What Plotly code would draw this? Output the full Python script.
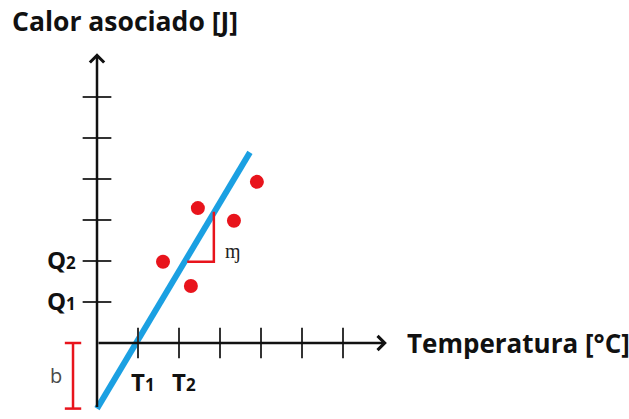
import plotly.graph_objects as go

# data
pts_x = [1.61, 2.29, 2.46, 3.34, 3.9]
pts_y = [1.98, 1.39, 3.29, 2.98, 3.93]
fit_x = [0.0, 3.73]
fit_y = [-1.6, 4.65]
slope_x = [2.2, 2.85, 2.85]
slope_y = [1.98, 1.98, 3.2]
b_x = -0.585
b_y = [0.0, -1.6]
x_ticks = [1, 2, 3, 4, 5, 6]
y_ticks = [1, 2, 3, 4, 5, 6]
x_tick_labels = {1: ("T", "1"), 2: ("T", "2")}
y_tick_labels = {1: ("Q", "1"), 2: ("Q", "2")}
x_axis_end = 7.07
y_axis_end = 7.07
y_axis_start = -1.6

U = 41.0
W, H = 629, 419
x0px, y0px = 97, 343
xr = [-x0px / U, (W - x0px) / U]
yr = [-(H - y0px) / U, y0px / U]

RED = "#e8141c"
BLUE = "#1ba0e2"
FONT = "Open Sans"

fig = go.Figure()

# tick marks
for t in x_ticks:
    fig.add_shape(type="line", x0=t, x1=t, y0=-0.37, y1=0.37, xref="x", yref="y",
                  line=dict(color="#333333", width=2))
for t in y_ticks:
    fig.add_shape(type="line", x0=-0.35, x1=0.35, y0=t, y1=t, xref="x", yref="y",
                  line=dict(color="#333333", width=2))

# axes with arrows
fig.add_annotation(x=x_axis_end, y=0, ax=0, ay=0, xref="x", yref="y", axref="x", ayref="y",
                   showarrow=True, arrowhead=4, arrowsize=1.1, arrowwidth=2.5, arrowcolor="#111111", text="")
fig.add_annotation(x=0, y=y_axis_end, ax=0, ay=y_axis_start, xref="x", yref="y", axref="x", ayref="y",
                   showarrow=True, arrowhead=4, arrowsize=1.1, arrowwidth=2.5, arrowcolor="#111111", text="")

# fit line
fig.add_trace(go.Scatter(x=fit_x, y=fit_y, mode="lines", line=dict(color=BLUE, width=6), hoverinfo="skip"))
# slope triangle
fig.add_trace(go.Scatter(x=slope_x, y=slope_y, mode="lines", line=dict(color=RED, width=2.5), hoverinfo="skip"))
# points
fig.add_trace(go.Scatter(x=pts_x, y=pts_y, mode="markers",
                         marker=dict(color=RED, size=14, line=dict(width=0))))
# b bracket
fig.add_trace(go.Scatter(x=[b_x, b_x], y=b_y, mode="lines", line=dict(color=RED, width=2.5), hoverinfo="skip"))
for yy in b_y:
    fig.add_trace(go.Scatter(x=[b_x - 0.2, b_x + 0.2], y=[yy, yy], mode="lines",
                             line=dict(color=RED, width=2.5), hoverinfo="skip"))


def lab(main, sub, size):
    return "<b>" + main + "<span style='font-size:" + str(size) + "px'>" + sub + "</span></b>"


# tick labels
for t, (m, s) in x_tick_labels.items():
    fig.add_annotation(x=t - 0.22, y=-0.95, xref="x", yref="y", text=lab(m, s, 17),
                       showarrow=False, font=dict(family=FONT, size=24, color="#111111"), xanchor="left")
for t, (m, s) in y_tick_labels.items():
    fig.add_annotation(x=-0.47, y=t + 0.04, xref="x", yref="y", text=lab(m, s, 17),
                       showarrow=False, font=dict(family=FONT, size=24, color="#111111"), xanchor="right")

fig.add_annotation(x=-1.0, y=-0.8, xref="x", yref="y", text="b", showarrow=False,
                   font=dict(family=FONT, size=20, color="#4a4a4a"))
fig.add_annotation(x=3.08, y=2.25, xref="x", yref="y", text="ɱ", showarrow=False,
                   font=dict(family=FONT, size=20, color="#222222"), xanchor="left")

# axis titles
fig.add_annotation(x=10 / W, y=1 - 21 / H, xref="paper", yref="paper",
                   text="<b>Calor asociado [J]</b>", showarrow=False, xanchor="left", yanchor="middle",
                   font=dict(family=FONT, size=26.5, color="#111111"))
fig.add_annotation(x=405 / W, y=0, xref="paper", yref="y",
                   text="<b>Temperatura [°C]</b>", showarrow=False, xanchor="left", yanchor="middle",
                   font=dict(family=FONT, size=26, color="#111111"))

fig.update_layout(width=W, height=H, autosize=False, margin=dict(l=0, r=0, t=0, b=0),
                  paper_bgcolor="white", plot_bgcolor="white", showlegend=False,
                  xaxis=dict(range=xr, visible=False, fixedrange=True),
                  yaxis=dict(range=yr, visible=False, fixedrange=True))

fig.write_html("out.html", config={"displayModeBar": False, "staticPlot": True},
               post_script="document.body.style.margin='0';document.body.style.overflow='hidden';")
